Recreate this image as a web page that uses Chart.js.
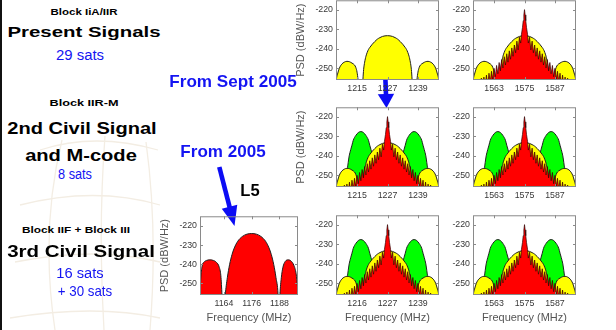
<!DOCTYPE html>
<html><head><meta charset="utf-8">
<script src="https://cdn.jsdelivr.net/npm/chart.js@4.4.1/dist/chart.umd.min.js"></script>
<style>
html,body{margin:0;padding:0;background:#fff;}
#stage{position:relative;width:616px;height:330px;overflow:hidden;background:#fff;font-family:"Liberation Sans",Arial,Helvetica,sans-serif;}
canvas.panel{position:absolute;}
.lbl{position:absolute;white-space:nowrap;line-height:1;transform-origin:50% 50%;}
</style></head><body>
<div id="stage">
<svg id="deco" width="616" height="330" style="position:absolute;left:0;top:0">
  <g stroke="#f3ede3" fill="none" stroke-width="1.3">
    <path d="M40 150 Q95 132 158 150"/>
    <path d="M20 205 Q95 186 160 205"/>
    <path d="M15 262 Q95 246 160 262"/>
    <path d="M10 318 Q95 304 160 318"/>
    <path d="M62 140 Q40 230 55 330"/>
    <path d="M105 136 Q98 230 104 330"/>
    <path d="M146 142 Q158 230 150 330"/>
  </g>
  <rect x="0" y="0" width="2" height="330" fill="#111"/>
</svg>
</div>
<script>
// ---------------- data ----------------
const yTicks = [-250, -240, -230, -220];
const l2Ticks = [1215, 1227, 1239];
const l2Labels = ['1215', '1227', '1239'];
const l2LabelsBottom = ['1216', '1227', '1239'];
const l1Ticks = [1563, 1575, 1587];
const l1Labels = ['1563', '1575', '1587'];
const l5Ticks = [1164, 1176, 1188];
const l5Labels = ['1164', '1176', '1188'];
const l2Center = 1227;
const l1Center = 1575;

// P(Y) code (yellow): offset from band centre (MHz), PSD (dBW/Hz)
const pyOffsets = [-21,-20.6,-20.2,-19.7,-19,-18,-17,-16,-15,-14,-13,-12.5,-12,-11.6,-11.2,-10.6,-10,-9.7,-9.4,-9,-8.5,-8,-7.5,-7,-6,-5,-4,-3,-2,-1,0,1,2,3,4,5,6,7,7.5,8,8.5,9,9.4,9.7,10,10.6,11.2,11.6,12,12.5,13,14,15,16,17,18,19,19.7,20.2,20.6,21];
const pyPsd = [-275,-262,-256,-253,-250,-247.8,-246.8,-246.4,-246.6,-247.3,-248.3,-249.5,-252,-256,-262,-275,-264,-256,-250.5,-246.8,-243.8,-241.8,-240.3,-239.3,-237.6,-236.2,-235,-234.2,-233.6,-233.3,-233.2,-233.3,-233.6,-234.2,-235,-236.2,-237.6,-239.3,-240.3,-241.8,-243.8,-246.8,-250.5,-256,-264,-275,-262,-256,-252,-249.5,-248.3,-247.3,-246.6,-246.4,-246.8,-247.8,-250,-253,-256,-262,-275];

// M-code (green)
const mOffsets = [-17.2,-16.4,-16,-15.5,-15.1,-14.5,-14,-13.5,-12.5,-11.5,-10.5,-9.5,-8.5,-7.5,-7,-6.5,-5.9,-5.5,-5,-4.6,-4,0,4,4.6,5,5.5,5.9,6.5,7,7.5,8.5,9.5,10.5,11.5,12.5,13.5,14,14.5,15.1,15.5,16,16.4,17.2];
const mPsd = [-264,-256,-249,-243.5,-240,-236.8,-234.5,-232,-229.5,-228,-227.5,-228,-229.5,-232,-234.5,-236.8,-240,-243.5,-249,-256,-264,-275,-264,-256,-249,-243.5,-240,-236.8,-234.5,-232,-229.5,-228,-227.5,-228,-229.5,-232,-234.5,-236.8,-240,-243.5,-249,-256,-264];

// C/A and civil code line spectrum (red)
const caOffsets = [-21,-20.5,-20,-19.5,-19,-18.5,-18,-17.5,-17,-16.5,-16,-15.5,-15,-14.5,-14,-13.5,-13,-12.5,-12,-11.5,-11,-10.5,-10,-9.5,-9,-8.5,-8,-7.5,-7,-6.5,-6,-5.5,-5,-4.5,-4,-3.5,-3,-2.5,-2,-1.5,-1.2,-0.8,-0.5,-0.25,0,0.25,0.5,0.8,1.2,1.5,2,2.5,3,3.5,4,4.5,5,5.5,6,6.5,7,7.5,8,8.5,9,9.5,10,10.5,11,11.5,12,12.5,13,13.5,14,14.5,15,15.5,16,16.5,17,17.5,18,18.5,19,19.5,20,20.5,21];
const caPsd = [-257,-259,-256.5,-259,-256,-259,-255.5,-259,-255,-259,-254.5,-259,-253.5,-259,-252.5,-257,-251.5,-255.8,-250,-254.3,-248.5,-252.8,-247,-251.3,-245.5,-249.8,-244,-248.3,-242.5,-246.8,-241,-245.3,-239.5,-243.8,-238,-242,-236,-240.5,-234,-237,-232.5,-229,-225.5,-222.5,-219.8,-222.5,-225.5,-229,-232.5,-237,-234,-240.5,-236,-242,-238,-243.8,-239.5,-245.3,-241,-246.8,-242.5,-248.3,-244,-249.8,-245.5,-251.3,-247,-252.8,-248.5,-254.3,-250,-255.8,-251.5,-257,-252.5,-259,-253.5,-259,-254.5,-259,-255,-259,-255.5,-259,-256,-259,-256.5,-259,-257];

// L5 signal (red), absolute frequency (MHz)
const l5Freq = [1153.5,1154,1154.6,1155.5,1156.5,1158,1159.5,1160.8,1162,1162.7,1163.2,1163.8,1164.6,1165.5,1166.5,1167.5,1168.5,1170,1172,1174,1176,1178,1180,1182,1183.5,1184.5,1185.5,1186.5,1187.4,1187.8,1188.2,1188.8,1189.5,1190.5,1191.8,1193,1194.2,1195.2,1195.8,1196.3];
const l5Psd = [-262,-248,-241,-238.8,-238,-237.7,-238,-239,-241.5,-246,-256,-270,-256,-247,-240,-235,-231.5,-228,-225.5,-224.3,-224,-224.3,-225.5,-228,-231.5,-235,-240,-247,-256,-270,-256,-247,-241.5,-238.5,-237.7,-238.3,-240.5,-245,-252,-260];

// ---------------- layout ----------------
const Y_MIN = -256, Y_MAX = -215;
const AX_W = 45, AX_H = 32, PAD_T = 6, PAD_R = 6;
const FONT = '"Liberation Sans", Arial, sans-serif';

function shifted(offsets, vals, c) { return offsets.map((o, i) => ({x: c + o, y: vals[i]})); }
function series(kind, band) {
  const c = band === 'L1' ? l1Center : l2Center;
  if (kind === 'm') return {data: shifted(mOffsets, mPsd, c), backgroundColor: '#00ff00', order: 3, cubicInterpolationMode: 'monotone'};
  if (kind === 'py') return {data: shifted(pyOffsets, pyPsd, c), backgroundColor: '#ffff00', order: 2, cubicInterpolationMode: 'monotone'};
  if (kind === 'ca') return {data: shifted(caOffsets, caPsd, c), backgroundColor: '#ff0000', order: 1, tension: 0, borderWidth: 0.7, borderColor: '#300000'};
  return {data: l5Freq.map((f, i) => ({x: f, y: l5Psd[i]})), backgroundColor: '#ff0000', order: 1, cubicInterpolationMode: 'monotone'};
}

const panels = [
  {rect:[336,-2,439,80],  range:[1206.7,1247.3], ticks:l2Ticks, labels:l2Labels, band:'L2', kinds:['py'], yTitle:true, xTitle:false},
  {rect:[473,-2,576,80],  range:[1554.7,1595.3], ticks:l1Ticks, labels:l1Labels, band:'L1', kinds:['py','ca'], yTitle:false, xTitle:false},
  {rect:[336,105,439,187], range:[1206.7,1247.3], ticks:l2Ticks, labels:l2Labels, band:'L2', kinds:['m','py','ca'], yTitle:true, xTitle:false},
  {rect:[473,105,576,187], range:[1554.7,1595.3], ticks:l1Ticks, labels:l1Labels, band:'L1', kinds:['m','py','ca'], yTitle:false, xTitle:false},
  {rect:[200,214,298,295], range:[1153.7,1196], ticks:l5Ticks, labels:l5Labels, band:'L5', kinds:['l5'], yTitle:true, xTitle:true},
  {rect:[336,213,439,295], range:[1206.7,1247.3], ticks:l2Ticks, labels:l2LabelsBottom, band:'L2', kinds:['m','py','ca'], yTitle:false, xTitle:true},
  {rect:[473,213,576,295], range:[1554.7,1595.3], ticks:l1Ticks, labels:l1Labels, band:'L1', kinds:['m','py','ca'], yTitle:false, xTitle:true},
];

const boxPlugin = {
  id: 'box',
  afterDraw(chart) {
    const {ctx, chartArea: a, scales: {x, y}} = chart;
    ctx.save();
    ctx.strokeStyle = '#8a8a8a';
    ctx.lineWidth = 1;
    ctx.strokeRect(a.left + 0.5, a.top + 0.5, a.right - a.left - 1, a.bottom - a.top - 1);
    ctx.beginPath();
    x.ticks.forEach(t => {
      const p = Math.round(x.getPixelForValue(t.value)) + 0.5;
      ctx.moveTo(p, a.bottom); ctx.lineTo(p, a.bottom - 3);
      ctx.moveTo(p, a.top); ctx.lineTo(p, a.top + 3);
    });
    y.ticks.forEach(t => {
      const p = Math.round(y.getPixelForValue(t.value)) + 0.5;
      ctx.moveTo(a.left, p); ctx.lineTo(a.left + 3, p);
      ctx.moveTo(a.right, p); ctx.lineTo(a.right - 3, p);
    });
    ctx.stroke();
    ctx.restore();
  }
};

const stage = document.getElementById('stage');
panels.forEach(pn => {
  const [l, t, r, b] = pn.rect;
  const cv = document.createElement('canvas');
  cv.className = 'panel';
  const w = (r - l) + AX_W + PAD_R, h = (b - t) + PAD_T + AX_H;
  cv.width = w; cv.height = h;
  cv.style.left = (l - AX_W) + 'px';
  cv.style.top = (t - PAD_T) + 'px';
  cv.style.width = w + 'px'; cv.style.height = h + 'px';
  stage.appendChild(cv);
  const datasets = pn.kinds.map(k => Object.assign({
    fill: 'start', borderColor: '#202020', borderWidth: 1, pointRadius: 0, clip: 0
  }, series(k, pn.band)));
  new Chart(cv.getContext('2d'), {
    type: 'line',
    data: {datasets},
    options: {
      animation: false, responsive: false, devicePixelRatio: 1,
      layout: {autoPadding: false, padding: {left: 0, top: PAD_T, right: PAD_R, bottom: 0}},
      plugins: {legend: {display: false}, tooltip: {enabled: false}},
      elements: {point: {radius: 0}},
      scales: {
        x: {
          type: 'linear', min: pn.range[0], max: pn.range[1],
          afterBuildTicks: s => { s.ticks = pn.ticks.map(v => ({value: v})); },
          afterFit: s => { s.height = AX_H; },
          grid: {display: false, drawTicks: false}, border: {display: false},
          ticks: {autoSkip: false, maxRotation: 0, padding: 3, color: '#383838',
                  font: {family: FONT, size: 8.8}, callback: (v, i) => pn.labels[i]},
          title: {display: pn.xTitle, text: 'Frequency (MHz)', color: '#555',
                  font: {family: FONT, size: 11}, padding: {top: 0, bottom: 2}}
        },
        y: {
          type: 'linear', min: Y_MIN, max: Y_MAX,
          afterBuildTicks: s => { s.ticks = yTicks.map(v => ({value: v})); },
          afterFit: s => { s.width = AX_W; },
          grid: {display: false, drawTicks: false}, border: {display: false},
          ticks: {autoSkip: false, padding: 3, color: '#383838', font: {family: FONT, size: 8.8}},
          title: {display: pn.yTitle, text: 'PSD (dBW/Hz)', color: '#555',
                  font: {family: FONT, size: 11}, padding: {top: 3, bottom: 0}}
        }
      }
    },
    plugins: [boxPlugin]
  });
});

// ---------------- text labels ----------------
const BLUE = '#1414f2';
const labels = [
  {t:'Block IiA/IIR', cx:83.5, base:15.7, size:9, bold:true, color:'#000', w:67},
  {t:'Present Signals', cx:84, base:37.3, size:15.5, bold:true, color:'#000', w:153},
  {t:'29 sats', cx:80.2, base:60, size:14, bold:false, color:BLUE, w:48},
  {t:'Block IIR-M', cx:83.8, base:106.7, size:9, bold:true, color:'#000', w:69},
  {t:'2nd Civil Signal', cx:82, base:135, size:16, bold:true, color:'#000', w:149.4},
  {t:'and M-code', cx:80.8, base:160.7, size:16.5, bold:true, color:'#000', w:111.7},
  {t:'8 sats', cx:75, base:179.3, size:14, bold:false, color:BLUE, w:34},
  {t:'Block IIF + Block III', cx:75.8, base:234, size:9, bold:true, color:'#000', w:108},
  {t:'3rd Civil Signal', cx:81.2, base:257.3, size:16.5, bold:true, color:'#000', w:147.7},
  {t:'16 sats', cx:80.3, base:278.3, size:14, bold:false, color:BLUE, w:47.3},
  {t:'+ 30 sats', cx:84.5, base:296.7, size:14.5, bold:false, color:BLUE, w:54.4},
  {t:'From Sept 2005', cx:233, base:86.7, size:16.5, bold:true, color:BLUE, w:127.4},
  {t:'From 2005', cx:223.3, base:157.3, size:16.5, bold:true, color:BLUE, w:85.3},
  {t:'L5', cx:249.7, base:196.7, size:16, bold:true, color:'#000', w:19.3},
];
labels.forEach(L => {
  const d = document.createElement('div');
  d.className = 'lbl';
  d.textContent = L.t;
  d.style.fontSize = L.size + 'px';
  d.style.fontWeight = L.bold ? 'bold' : 'normal';
  d.style.color = L.color;
  d.style.left = L.cx + 'px';
  d.style.top = (L.base - 0.8465 * L.size) + 'px';
  stage.appendChild(d);
  const nat = d.getBoundingClientRect().width;
  const k = L.w / nat;
  d.style.transform = 'translateX(-50%) scaleX(' + k.toFixed(3) + ')';
});

// ---------------- arrows ----------------
const svgNS = 'http://www.w3.org/2000/svg';
const deco = document.getElementById('deco');
function arrow(x1, y1, x2, y2, headLen, headHalf) {
  const dx = x2 - x1, dy = y2 - y1, L = Math.hypot(dx, dy);
  const ux = dx / L, uy = dy / L, nx = -uy, ny = ux;
  const bx = x2 - ux * headLen, by = y2 - uy * headLen;
  const line = document.createElementNS(svgNS, 'line');
  line.setAttribute('x1', x1); line.setAttribute('y1', y1);
  line.setAttribute('x2', bx + ux); line.setAttribute('y2', by + uy);
  line.setAttribute('stroke', '#0c0cf4'); line.setAttribute('stroke-width', 4.6);
  deco.appendChild(line);
  const poly = document.createElementNS(svgNS, 'polygon');
  poly.setAttribute('points', [x2, y2, bx + nx * headHalf, by + ny * headHalf, bx - nx * headHalf, by - ny * headHalf].join(' '));
  poly.setAttribute('fill', '#0c0cf4');
  deco.appendChild(poly);
}
arrow(384.5, 55, 386.5, 108, 14, 8.2);
arrow(219.3, 167, 234.5, 226, 20, 8);
</script>
</body></html>
